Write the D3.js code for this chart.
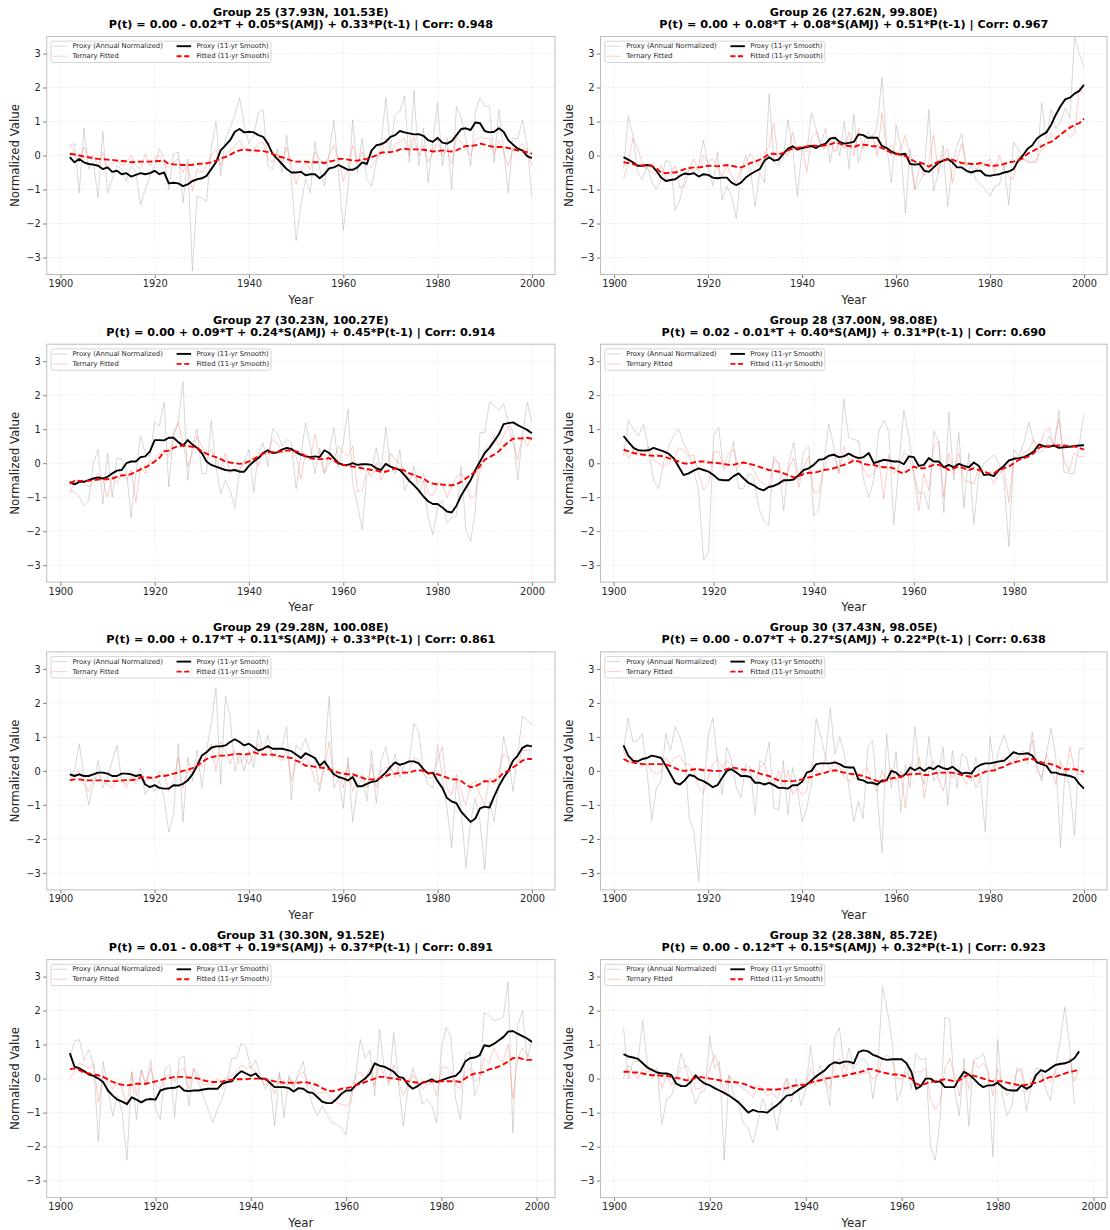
<!DOCTYPE html>
<html>
<head>
<meta charset="utf-8">
<script src="https://cdn.jsdelivr.net/npm/d3@7"></script>
<style>
  body { margin: 0; background: #fff; }
  svg { display: block; font-family: "DejaVu Sans", sans-serif; }
</style>
</head>
<body>
<div id="chart"></div>
<script>
// every series starts in 1902, one value per year
const firstYear = 1902;
const groupTitles = [
  "Group 25 (37.93N, 101.53E)", "Group 26 (27.62N, 99.80E)",
  "Group 27 (30.23N, 100.27E)", "Group 28 (37.00N, 98.08E)",
  "Group 29 (29.28N, 100.08E)", "Group 30 (37.43N, 98.05E)",
  "Group 31 (30.30N, 91.52E)", "Group 32 (28.38N, 85.72E)"
];
const equations = [
  "P(t) = 0.00 - 0.02*T + 0.05*S(AMJ) + 0.33*P(t-1) | Corr: 0.948",
  "P(t) = 0.00 + 0.08*T + 0.08*S(AMJ) + 0.51*P(t-1) | Corr: 0.967",
  "P(t) = 0.00 + 0.09*T + 0.24*S(AMJ) + 0.45*P(t-1) | Corr: 0.914",
  "P(t) = 0.02 - 0.01*T + 0.40*S(AMJ) + 0.31*P(t-1) | Corr: 0.690",
  "P(t) = 0.00 + 0.17*T + 0.11*S(AMJ) + 0.33*P(t-1) | Corr: 0.861",
  "P(t) = 0.00 - 0.07*T + 0.27*S(AMJ) + 0.22*P(t-1) | Corr: 0.638",
  "P(t) = 0.01 - 0.08*T + 0.19*S(AMJ) + 0.37*P(t-1) | Corr: 0.891",
  "P(t) = 0.00 - 0.12*T + 0.15*S(AMJ) + 0.32*P(t-1) | Corr: 0.923"
];
// last year of each record (sets the x range)
const lastYears = [2000, 2000, 2000, 1994, 2000, 2000, 1999, 1998];
const yearTicks = [1900, 1920, 1940, 1960, 1980, 2000];
const valueTicks = [-3, -2, -1, 0, 1, 2, 3];
const legendLabels = ["Proxy (Annual Normalized)", "Ternary Fitted", "Proxy (11-yr Smooth)", "Fitted (11-yr Smooth)"];

// ---- Group 25
const g25Proxy = [0.3, 0.35, -1.1, 0.8, -0.4, -0.2, -1.25, 0.72,
  -1.1, -0.7, -0.3, -0.4, -0.75, -0.3, -0.5, -1.45, -1.0, -0.6,
  -0.3, 0.2, -0.1, -1.0, 0.05, 0.1, -1.4, -0.1, -3.4, -1.2,
  -1.25, -1.35, 0.2, 1.0, -0.6, 0.5, 0.8, 1.2, 1.7, 0.9,
  0.35, 0.6, 1.25, 1.35, -0.3, -0.4, 0.2, -0.5, 0.6, -0.7,
  -2.5, -1.5, -0.7, -1.1, 0.4, -0.4, -0.9, 0.1, 1.05, -0.5,
  -2.2, -1.0, 1.05, -0.5, 0.5, -0.7, -0.9, -0.2, 0.3, 1.7,
  0.2, 1.2, 1.3, 1.75, -0.2, 1.9, -0.3, 0.8, -0.8, 0.4,
  1.55, -0.3, 0.5, -1.0, 1.45, 1.1, 0.5, -0.3, 1.3, 1.7,
  1.45, 1.45, -0.2, 1.35, 0.2, -1.1, 0.5, 0.5, 1.05, 0.3,
  -1.2];
const g25Fitted = [0.3, 0.1, -0.2, 0.25, -0.1, 0.0, -0.3, 0.1,
  -0.4, -0.2, -0.1, -0.3, -0.2, 0.0, -0.3, -0.4, 0.05, -0.3,
  -0.1, 0.0, -0.25, -0.35, -0.2, -0.1, -0.5, -0.2, -1.05, -0.4,
  -0.5, -0.3, 0.0, 0.2, -0.3, 0.0, 0.15, 0.3, 0.45, 0.2,
  0.1, 0.15, 0.35, 0.4, -0.1, -0.2, 0.05, -0.2, 0.25, -0.3,
  -0.85, -0.4, -0.2, -0.4, 0.1, -0.1, -0.3, 0.0, 0.3, -0.1,
  -0.75, -0.4, 0.3, -0.2, 0.1, -0.3, -0.35, -0.1, 0.05, 0.5,
  0.05, 0.35, 0.4, 0.5, 0.0, 0.55, 0.0, 0.3, -0.2, 0.1,
  0.5, 0.0, 0.2, -0.25, 0.55, 0.4, 0.2, 0.0, 0.45, 0.55,
  0.5, 0.5, 0.05, 0.45, 0.1, -0.3, 0.2, 0.2, 0.35, 0.1,
  -0.3];
const g25ProxySmooth = [-0.05, -0.2, -0.1, -0.2, -0.25, -0.27, -0.3, -0.4,
  -0.35, -0.48, -0.45, -0.55, -0.52, -0.62, -0.57, -0.52, -0.55, -0.52,
  -0.45, -0.55, -0.5, -0.82, -0.8, -0.82, -0.9, -0.85, -0.75, -0.7,
  -0.67, -0.6, -0.4, -0.2, 0.15, 0.3, 0.45, 0.7, 0.78, 0.68,
  0.7, 0.68, 0.6, 0.55, 0.35, 0.05, -0.1, -0.25, -0.4, -0.5,
  -0.5, -0.48, -0.58, -0.55, -0.55, -0.67, -0.55, -0.38, -0.35, -0.28,
  -0.35, -0.42, -0.42, -0.35, -0.2, -0.25, 0.15, 0.3, 0.33, 0.4,
  0.55, 0.6, 0.72, 0.68, 0.65, 0.62, 0.63, 0.58, 0.45, 0.4,
  0.52, 0.38, 0.35, 0.42, 0.6, 0.78, 0.8, 0.75, 0.97, 0.95,
  0.72, 0.68, 0.7, 0.8, 0.7, 0.45, 0.32, 0.2, 0.15, -0.02,
  -0.08];
const g25FittedSmooth = [0.05, 0.03, 0.0, -0.03, -0.05, -0.08, -0.1, -0.11,
  -0.12, -0.13, -0.15, -0.16, -0.17, -0.2, -0.19, -0.18, -0.18, -0.18,
  -0.17, -0.16, -0.15, -0.25, -0.26, -0.27, -0.28, -0.28, -0.27, -0.25,
  -0.24, -0.23, -0.2, -0.15, -0.08, -0.05, 0.02, 0.1, 0.15, 0.18,
  0.16, 0.15, 0.14, 0.13, 0.1, 0.05, -0.02, -0.05, -0.1, -0.15,
  -0.18, -0.18, -0.18, -0.2, -0.2, -0.2, -0.22, -0.18, -0.15, -0.1,
  -0.1, -0.12, -0.15, -0.15, -0.12, -0.1, -0.05, 0.0, 0.08, 0.1,
  0.1, 0.12, 0.18, 0.2, 0.18, 0.18, 0.18, 0.17, 0.15, 0.12,
  0.13, 0.15, 0.13, 0.12, 0.15, 0.22, 0.28, 0.28, 0.3, 0.35,
  0.32, 0.28, 0.25, 0.25, 0.25, 0.22, 0.18, 0.15, 0.12, 0.1,
  0.05];

// ---- Group 26
const g26Proxy = [-0.4, 1.15, 0.6, -0.5, -0.7, -0.3, -0.75, -1.0,
  -0.7, -0.15, -0.2, -1.6, -1.3, -0.7, -0.3, -0.5, -0.3, 0.45,
  -0.3, -0.9, 0.1, -1.3, -0.9, -1.2, -1.85, -0.5, 0.0, -0.4,
  -1.5, -0.5, -0.8, 1.8, -0.2, -0.3, -0.1, 1.05, 0.2, -1.2,
  0.2, 0.1, 1.25, 0.8, 0.3, 0.8, -0.2, 0.6, 0.0, 1.0,
  -0.4, 1.2, -0.2, 0.3, 0.7, 0.5, 0.9, 2.3, 0.3, -0.8,
  0.9, 0.3, -1.7, 0.2, -1.0, -0.8, -0.5, 1.35, -1.05, -0.5,
  0.3, -1.5, -0.3, 0.3, 0.65, -0.5, -0.3, -0.7, -0.85, -1.0,
  -1.2, -0.9, -0.85, -0.3, -1.45, 0.4, 0.2, -0.1, -0.2, -0.2,
  -0.2, 1.55, 0.5, 1.35, 0.8, 1.0, 1.4, 1.1, 3.5, 3.0,
  2.6];
const g26Fitted = [-0.7, -0.2, 0.5, 0.2, -0.2, -0.4, -0.5, -0.55,
  -0.3, -0.7, -0.5, -0.3, -0.95, -0.9, -0.4, -0.1, -0.5, 0.0,
  -0.2, -0.1, -0.35, -0.6, -0.3, -0.6, -0.8, -0.4, -0.2, 0.05,
  -0.2, -0.3, 0.0, 0.3, 0.95, -0.2, 0.1, 0.0, 0.7, 0.1,
  0.3, -0.5, 0.5, 0.7, 0.3, 0.2, 0.5, 0.1, 0.4, 0.2,
  0.7, 0.0, 0.8, 0.2, 0.4, 0.6, 0.0, 1.25, 0.1, 0.3,
  0.0, 0.2, 0.6, -0.1, -1.0, -0.3, -0.6, -0.2, 0.6, -0.5,
  0.0, 0.2, -0.8, -0.1, 0.35, -0.3, -0.2, -0.4, -0.3, -0.2,
  -0.1, -0.5, 0.0, -0.4, -0.6, -0.7, 0.0, -0.1, -0.15, -0.2,
  -0.1, 0.2, 0.3, 0.65, 0.5, 0.6, 0.7, 0.55, 0.65, 2.0,
  1.8];
const g26ProxySmooth = [-0.05, -0.12, -0.2, -0.3, -0.3, -0.28, -0.3, -0.45,
  -0.65, -0.75, -0.72, -0.7, -0.6, -0.53, -0.55, -0.52, -0.62, -0.55,
  -0.57, -0.65, -0.67, -0.65, -0.65, -0.8, -0.87, -0.8, -0.65, -0.55,
  -0.47, -0.4, -0.15, -0.05, -0.15, -0.12, 0.05, 0.2, 0.27, 0.18,
  0.22, 0.25, 0.28, 0.22, 0.3, 0.35, 0.5, 0.52, 0.4, 0.35,
  0.37, 0.4, 0.62, 0.6, 0.52, 0.52, 0.52, 0.28, 0.22, 0.12,
  0.05, 0.03, 0.05, -0.25, -0.27, -0.25, -0.45, -0.48, -0.35, -0.22,
  -0.15, -0.1, -0.2, -0.35, -0.35, -0.45, -0.5, -0.45, -0.45, -0.58,
  -0.6, -0.57, -0.55, -0.5, -0.47, -0.4, -0.15, 0.0, 0.2, 0.3,
  0.5, 0.6, 0.68, 0.9, 1.2, 1.45, 1.65, 1.7, 1.82, 1.9,
  2.08];
const g26FittedSmooth = [-0.2, -0.22, -0.25, -0.3, -0.3, -0.28, -0.3, -0.38,
  -0.5, -0.52, -0.5, -0.5, -0.45, -0.4, -0.37, -0.35, -0.35, -0.33,
  -0.3, -0.3, -0.32, -0.3, -0.28, -0.3, -0.33, -0.35, -0.3, -0.22,
  -0.18, -0.12, -0.05, 0.05, 0.05, 0.03, 0.08, 0.15, 0.2, 0.22,
  0.25, 0.27, 0.3, 0.28, 0.28, 0.3, 0.33, 0.38, 0.35, 0.3,
  0.28, 0.25, 0.3, 0.32, 0.3, 0.27, 0.27, 0.22, 0.15, 0.08,
  0.05, 0.02, -0.02, -0.1, -0.18, -0.2, -0.25, -0.33, -0.25, -0.18,
  -0.15, -0.12, -0.12, -0.18, -0.22, -0.23, -0.25, -0.25, -0.22, -0.27,
  -0.3, -0.3, -0.28, -0.25, -0.2, -0.18, -0.15, -0.08, 0.05, 0.12,
  0.2, 0.28, 0.35, 0.4, 0.5, 0.62, 0.72, 0.82, 0.9, 0.95,
  1.08];

// ---- Group 27
const g27Proxy = [-0.8, -0.85, -1.0, -1.25, -1.1, 0.0, 0.4, -1.2,
  0.3, -1.0, 0.15, 0.1, -0.2, -1.6, -0.3, 0.8, 0.3, 0.2,
  1.2, 1.1, 1.8, -0.7, 0.9, 1.2, 2.4, -0.5, 0.5, 1.0,
  -0.3, -0.3, 1.25, -0.1, -0.9, -0.5, -0.8, -1.3, -0.2, 0.0,
  0.4, -0.85, 0.3, 0.6, -0.1, 1.0, 0.9, 0.5, 0.7, 0.6,
  -0.75, 0.2, 1.2, 0.5, -0.3, 0.45, -0.3, 0.3, 1.05, -0.1,
  0.6, 1.6, -0.6, -1.2, -1.95, -0.4, -0.2, 0.45, -0.3, 1.05,
  -0.1, -0.3, 0.4, -0.8, -0.5, -0.1, -0.9, -0.5, -1.6, -2.1,
  -1.3, -1.1, -1.75, -1.6, -1.55, -0.1, -1.95, -2.3, -1.4, 0.9,
  0.9, 1.8, 1.7, 1.55, 1.75, 1.2, 0.9, -0.5, 0.8, 1.8,
  1.2];
const g27Fitted = [-0.9, -0.5, -0.5, -0.55, -0.7, -0.6, -0.3, -0.5,
  -1.0, -0.4, -0.6, -0.3, -0.5, -0.2, -1.15, -0.1, -0.3, 0.1,
  0.0, 0.3, 0.3, 0.2, 0.8, 1.2, 0.6, -0.1, 0.3, 0.8,
  0.5, 0.2, 0.4, 0.1, -0.2, 0.3, -0.3, -0.1, -0.2, 0.1,
  0.0, 0.2, -0.1, 0.3, 0.3, 0.7, 0.6, 0.3, 0.4, 0.4,
  0.2, -0.45, 0.3, 0.1, 0.85, 0.2, -0.3, 0.0, 0.1, 0.5,
  0.3, 0.2, 0.5, -0.85, -0.8, -0.2, -0.4, 0.0, -0.5, -0.2,
  0.3, 0.1, 0.0, -0.2, -0.5, -0.3, -0.6, -0.3, -0.9, -0.95,
  -0.6, -0.6, -1.0, -0.7, -0.4, -0.3, -0.5, -1.05, -0.95, -0.2,
  0.4, 0.5, 0.8, 0.5, 0.8, 1.1, 0.6, 0.1, 0.8, 0.5,
  0.75];
const g27ProxySmooth = [-0.55, -0.62, -0.55, -0.55, -0.5, -0.45, -0.42, -0.45,
  -0.4, -0.3, -0.22, -0.2, 0.0, 0.05, 0.05, 0.18, 0.2, 0.35,
  0.68, 0.68, 0.67, 0.75, 0.75, 0.62, 0.52, 0.68, 0.55, 0.45,
  0.3, 0.05, -0.05, -0.1, -0.15, -0.2, -0.22, -0.2, -0.25, -0.25,
  -0.08, 0.05, 0.15, 0.3, 0.38, 0.3, 0.32, 0.4, 0.45, 0.42,
  0.32, 0.25, 0.2, 0.18, 0.2, 0.18, 0.38, 0.3, 0.15, 0.0,
  -0.05, -0.05, 0.0, -0.05, -0.03, -0.03, -0.05, -0.15, -0.2, -0.02,
  -0.1, -0.15, -0.2, -0.35, -0.52, -0.65, -0.8, -0.98, -1.12, -1.2,
  -1.2, -1.3, -1.42, -1.45, -1.25, -0.95, -0.72, -0.5, -0.2, 0.05,
  0.3, 0.45, 0.65, 0.85, 1.15, 1.18, 1.2, 1.12, 1.05, 0.98,
  0.88];
const g27FittedSmooth = [-0.6, -0.52, -0.52, -0.52, -0.52, -0.5, -0.48, -0.47,
  -0.47, -0.45, -0.4, -0.36, -0.35, -0.32, -0.25, -0.18, -0.12, -0.05,
  0.05, 0.15, 0.35, 0.37, 0.45, 0.5, 0.52, 0.5, 0.48, 0.45,
  0.35, 0.28, 0.22, 0.18, 0.12, 0.05, 0.02, 0.0, -0.02, 0.0,
  0.05, 0.12, 0.2, 0.28, 0.32, 0.32, 0.33, 0.35, 0.37, 0.38,
  0.35, 0.3, 0.2, 0.15, 0.12, 0.12, 0.12, 0.15, 0.08, -0.02,
  -0.05, -0.08, -0.1, -0.12, -0.15, -0.17, -0.2, -0.22, -0.25, -0.25,
  -0.2, -0.15, -0.18, -0.22, -0.3, -0.35, -0.4, -0.45, -0.55, -0.6,
  -0.62, -0.63, -0.65, -0.65, -0.62, -0.55, -0.45, -0.35, -0.25, -0.08,
  0.1, 0.18, 0.25, 0.35, 0.5, 0.62, 0.72, 0.73, 0.73, 0.75,
  0.72];

// ---- Group 28 (record ends 1994)
const g28Proxy = [0.2, 1.25, 1.0, 0.8, 1.15, 0.4, -0.5, -0.75,
  0.0, 0.5, 0.8, 1.0, 0.6, 0.3, -0.2, -0.8, -2.85, -2.6,
  0.8, 1.05, -0.2, 0.0, 0.65, -0.75, -0.75, -0.3, -0.4, -1.3,
  -1.7, -1.85, 0.2, 0.0, -1.4, 0.0, 0.6, -0.5, 0.35, 0.5,
  -1.55, -1.35, 0.0, 1.15, 0.5, -0.3, 1.9, 0.75, 0.7, 0.65,
  -0.5, -1.0, -0.5, 0.95, 1.25, 0.95, -1.8, -0.1, 1.55, 0.8,
  -0.3, -0.9, -0.85, -1.35, 0.95, 0.6, -1.45, 1.5, -0.5, 0.9,
  -1.3, 0.3, -1.8, -0.3, 0.0, 0.1, 0.25, 0.0, -0.5, -2.45,
  0.4, 0.2, 0.6, 1.2, 0.6, 0.3, 0.4, 0.8, 0.5, 1.55,
  -0.25, -0.3, -0.3, 0.5, 1.45];
const g28Fitted = [0.5, 0.15, 0.4, 0.3, 0.2, 0.5, 0.1, 0.0,
  -0.1, 0.0, 0.1, 0.45, 0.4, 0.2, 0.25, -0.3, -0.8, -0.6,
  0.3, 0.35, -0.1, 0.3, 0.4, -0.1, 0.0, 0.0, -0.2, -0.5,
  -0.6, -0.7, 0.1, 0.0, -0.6, -0.15, 0.15, -0.7, -0.1, 0.2,
  -0.85, -0.85, -0.2, 0.2, 0.3, -0.3, 0.5, 0.1, 0.1, 0.2,
  -0.2, -0.4, -0.3, 0.1, -1.05, 0.25, -0.3, -0.1, 0.3, 0.2,
  -0.3, -1.4, -0.3, -0.8, 0.5, 0.65, -1.0, 0.3, -0.3, 0.3,
  -0.5, -0.55, -0.6, -0.1, -0.2, -0.3, -0.6, -0.3, -0.2, -1.15,
  0.2, 0.1, 0.3, 0.4, 0.7, 0.4, 0.9, 1.05, 0.5, 1.3,
  0.1, -0.25, 0.3, 0.2, 0.2];
const g28ProxySmooth = [0.8, 0.62, 0.45, 0.38, 0.37, 0.38, 0.45, 0.4,
  0.35, 0.28, 0.15, -0.1, -0.35, -0.3, -0.22, -0.15, -0.2, -0.25,
  -0.35, -0.48, -0.5, -0.5, -0.38, -0.3, -0.45, -0.58, -0.65, -0.75,
  -0.8, -0.7, -0.67, -0.6, -0.5, -0.5, -0.48, -0.35, -0.2, -0.15,
  -0.05, 0.1, 0.12, 0.22, 0.25, 0.18, 0.2, 0.28, 0.2, 0.15,
  0.18, 0.3, 0.0, 0.05, 0.1, 0.08, 0.05, 0.05, -0.03, 0.2,
  0.18, -0.08, -0.05, 0.15, 0.05, 0.05, -0.12, -0.05, -0.12, -0.02,
  -0.08, -0.12, 0.02, -0.08, -0.35, -0.33, -0.38, -0.2, -0.08, 0.08,
  0.13, 0.15, 0.18, 0.25, 0.35, 0.55, 0.5, 0.48, 0.52, 0.45,
  0.47, 0.48, 0.5, 0.52, 0.53];
const g28FittedSmooth = [0.4, 0.35, 0.3, 0.27, 0.25, 0.23, 0.22, 0.22,
  0.2, 0.15, 0.1, 0.05, 0.0, -0.02, 0.02, 0.05, 0.05, 0.02,
  0.02, 0.0, -0.02, -0.05, -0.05, 0.0, 0.02, -0.02, -0.05, -0.1,
  -0.15, -0.2, -0.22, -0.25, -0.3, -0.35, -0.42, -0.38, -0.32, -0.28,
  -0.28, -0.25, -0.2, -0.18, -0.15, -0.1, -0.05, 0.0, 0.08, 0.05,
  -0.02, -0.05, -0.05, -0.1, -0.12, -0.12, -0.15, -0.25, -0.3, -0.2,
  -0.1, -0.15, -0.15, -0.1, -0.05, -0.05, -0.1, -0.2, -0.15, -0.1,
  -0.15, -0.2, -0.15, -0.2, -0.25, -0.3, -0.3, -0.2, -0.15, -0.1,
  0.0, 0.1, 0.15, 0.2, 0.3, 0.45, 0.5, 0.5, 0.52, 0.52,
  0.52, 0.5, 0.5, 0.45, 0.4];

// ---- Group 29
const g29Proxy = [-0.1, 0.0, 0.8, -0.1, -1.0, -0.4, 0.3, -0.5,
  -0.2, 0.3, 0.75, -0.3, -0.4, -0.1, -0.3, 0.1, -0.7, -0.4,
  -0.6, -0.3, -0.8, -1.8, -1.3, 0.8, -1.5, 0.4, -0.3, 0.6,
  -0.5, 0.6, 1.4, 2.45, -0.4, 2.2, 1.6, 0.0, 0.5, 0.0,
  0.6, 0.1, 1.2, 0.6, 1.05, 0.4, 0.6, 0.7, 1.3, -0.85,
  0.75, 0.6, 0.95, 0.5, 0.3, -0.6, 0.2, 2.2, -0.5, -0.2,
  -1.1, 0.4, -1.5, -0.5, -0.2, -0.9, 0.6, -0.95, 0.3, 0.7,
  0.0, 0.5, -0.2, 0.2, 0.3, 1.4, 1.15, 0.0, -0.4, -0.5,
  0.75, -0.2, -1.1, -2.25, -0.3, -1.1, -2.85, -1.5, -0.8, -1.5,
  -2.9, -0.9, -1.5, -0.3, 1.0, 0.4, -0.6, 0.5, 1.6, 1.5,
  1.35];
const g29Fitted = [-0.2, -0.1, 0.0, -0.4, -0.6, -0.3, -0.1, -0.3,
  -0.4, -0.5, -0.2, -0.3, -0.5, -0.2, -0.4, -0.1, -0.3, -0.2,
  -0.3, 0.0, -0.1, -0.6, -0.3, 0.4, -0.5, 0.0, 0.0, 0.3,
  0.1, 0.5, 0.8, 0.0, 0.85, 0.6, 0.2, 0.6, 0.2, 0.4,
  0.2, 0.5, 0.8, 0.4, 0.7, 0.5, 0.4, 0.3, 0.6, -0.3,
  0.3, 0.2, 0.4, 0.2, -0.3, -0.4, 0.1, 0.85, -0.2, 0.0,
  -0.5, 0.2, -0.6, -0.3, -0.1, -0.5, 0.2, -0.5, 0.0, 0.1,
  0.1, -0.2, 0.2, -0.1, 0.0, 0.4, 0.3, -0.1, -0.2, -0.2,
  0.3, 0.7, -0.5, -0.7, -0.1, -0.6, -1.0, -0.4, -0.3, -0.7,
  -1.0, -0.2, -0.4, 0.0, 0.5, 0.4, 0.1, 0.2, 0.6, 0.6,
  0.6];
const g29ProxySmooth = [-0.1, -0.15, -0.1, -0.15, -0.15, -0.1, -0.05, -0.05,
  -0.08, -0.15, -0.15, -0.08, -0.08, -0.1, -0.15, -0.12, -0.4, -0.48,
  -0.42, -0.5, -0.52, -0.52, -0.42, -0.43, -0.38, -0.28, -0.1, 0.15,
  0.45, 0.55, 0.68, 0.72, 0.72, 0.75, 0.85, 0.93, 0.85, 0.75,
  0.8, 0.7, 0.6, 0.65, 0.73, 0.65, 0.65, 0.65, 0.62, 0.58,
  0.48, 0.38, 0.52, 0.45, 0.38, 0.15, 0.28, 0.08, -0.1, -0.18,
  -0.22, -0.28, -0.18, -0.45, -0.45, -0.38, -0.32, -0.3, -0.18, -0.05,
  0.12, 0.25, 0.18, 0.22, 0.28, 0.28, 0.22, 0.05, -0.08, -0.05,
  -0.3, -0.5, -0.8, -0.9, -0.95, -1.2, -1.35, -1.5, -1.4, -1.1,
  -1.05, -1.08, -0.75, -0.45, -0.2, 0.0, 0.3, 0.45, 0.68, 0.75,
  0.72];
const g29FittedSmooth = [-0.28, -0.25, -0.25, -0.27, -0.28, -0.28, -0.28, -0.28,
  -0.3, -0.3, -0.3, -0.28, -0.27, -0.27, -0.25, -0.2, -0.18, -0.2,
  -0.2, -0.15, -0.15, -0.12, -0.08, -0.05, 0.0, 0.03, 0.08, 0.15,
  0.25, 0.35, 0.4, 0.43, 0.45, 0.45, 0.47, 0.5, 0.5, 0.48,
  0.5, 0.55, 0.5, 0.48, 0.48, 0.48, 0.45, 0.42, 0.4, 0.38,
  0.3, 0.25, 0.15, 0.15, 0.12, 0.1, 0.08, 0.05, 0.0, -0.05,
  -0.08, -0.1, -0.1, -0.15, -0.2, -0.25, -0.25, -0.25, -0.2, -0.15,
  -0.1, -0.08, -0.06, -0.05, -0.05, 0.0, 0.02, 0.0, -0.05, -0.08,
  -0.1, -0.15, -0.2, -0.25, -0.25, -0.3, -0.4, -0.48, -0.45, -0.38,
  -0.3, -0.32, -0.3, -0.2, -0.05, 0.0, 0.1, 0.2, 0.3, 0.35,
  0.35];

// ---- Group 30
const g30Proxy = [0.6, 1.55, 0.85, 0.9, 1.1, 0.0, -1.45, -0.5,
  -0.3, 1.1, 0.6, 1.3, 1.0, 0.5, -1.4, -1.8, -3.25, -0.6,
  1.0, 1.55, 0.3, -0.7, 0.7, 0.3, -0.5, -0.8, 0.2, 0.1,
  -1.3, 0.3, 0.2, 0.85, -1.1, -1.15, 0.3, -1.3, 0.1, -0.5,
  -1.5, -1.1, -0.4, 1.55, 1.0, 0.4, 1.85, 0.5, 1.0, 0.5,
  -0.5, -1.5, -0.9, -1.4, 0.7, 0.9, -0.7, -2.4, 1.1, -0.5,
  0.55, -1.2, 0.2, -0.5, 1.3, 0.0, -0.4, 1.0, -0.3, -0.1,
  0.7, -1.0, 0.6, -0.5, 0.5, 0.4, -0.3, 0.4, -0.3, -1.8,
  1.0, 0.0, 0.7, 1.05, 0.6, 0.3, 0.4, 0.5, 0.2, 1.15,
  0.2, -0.3, 0.5, 1.25, 0.4, -2.25, 0.1, -0.5, -1.9, 0.65,
  0.65];
const g30Fitted = [0.6, 0.2, 0.4, 0.3, 0.1, 0.2, 0.0, -0.1,
  0.0, 0.4, 0.2, 0.4, 0.45, 0.2, 0.2, 0.0, -0.5, -0.65,
  -0.2, 0.2, 0.35, 0.1, 0.3, 0.2, 0.0, -0.2, 0.1, -0.1,
  -0.3, 0.1, 0.2, -0.3, -0.4, 0.0, -0.5, 0.0, -0.7, -0.5,
  -0.7, -0.6, 0.2, 0.0, -0.1, 0.4, 0.0, 0.3, 0.1, -0.2,
  -0.3, -0.2, -0.3, 0.0, 0.1, -0.4, -0.6, 0.0, -0.3, 0.1,
  -0.3, 0.0, -1.1, 0.2, 0.0, 0.4, -0.8, 0.0, 0.3, -0.2,
  -0.6, 0.0, -0.2, 0.0, -0.1, -0.4, 0.0, -0.5, -0.2, 0.0,
  0.0, 0.2, 0.3, 0.4, 0.3, 0.2, 0.4, 0.6, 0.3, 0.9,
  0.0, -0.2, 0.5, 0.1, -0.4, 0.3, -0.2, 0.7, 0.0, -0.1,
  -0.1];
const g30ProxySmooth = [0.75, 0.45, 0.3, 0.28, 0.35, 0.38, 0.45, 0.42,
  0.38, 0.15, -0.1, -0.35, -0.4, -0.28, -0.12, -0.15, -0.25, -0.3,
  -0.38, -0.48, -0.42, -0.2, 0.0, 0.05, -0.05, -0.15, -0.15, -0.18,
  -0.35, -0.35, -0.4, -0.35, -0.42, -0.5, -0.5, -0.52, -0.42, -0.42,
  -0.32, -0.05, 0.0, 0.2, 0.22, 0.22, 0.22, 0.25, 0.2, 0.12,
  0.1, 0.1, -0.25, -0.28, -0.35, -0.35, -0.4, -0.28, -0.28, 0.0,
  -0.05, -0.18, -0.1, 0.1, 0.02, 0.1, 0.0, 0.1, 0.05, 0.15,
  0.08, 0.05, 0.12, 0.02, -0.08, -0.05, -0.08, 0.1, 0.18, 0.22,
  0.22, 0.25, 0.28, 0.3, 0.42, 0.55, 0.5, 0.5, 0.52, 0.45,
  0.25, 0.2, 0.15, -0.05, -0.05, -0.1, -0.12, -0.15, -0.2, -0.38,
  -0.52];
const g30FittedSmooth = [0.35, 0.28, 0.25, 0.22, 0.2, 0.2, 0.2, 0.2,
  0.2, 0.18, 0.15, 0.08, 0.02, 0.0, 0.02, 0.05, 0.05, 0.02,
  0.02, 0.0, 0.0, 0.0, 0.05, 0.1, 0.08, 0.05, 0.03, 0.02,
  -0.02, -0.08, -0.12, -0.15, -0.22, -0.28, -0.3, -0.3, -0.3, -0.28,
  -0.25, -0.2, -0.18, -0.12, -0.08, -0.05, 0.0, 0.02, -0.02, -0.05,
  -0.08, -0.1, -0.12, -0.15, -0.2, -0.25, -0.3, -0.32, -0.28, -0.22,
  -0.2, -0.18, -0.12, -0.1, -0.1, -0.08, -0.12, -0.12, -0.08, -0.05,
  -0.05, -0.05, -0.05, -0.08, -0.12, -0.15, -0.18, -0.15, -0.08, -0.02,
  0.0, 0.02, 0.08, 0.12, 0.2, 0.25, 0.28, 0.32, 0.35, 0.35,
  0.3, 0.25, 0.22, 0.2, 0.15, 0.08, 0.05, 0.05, 0.05, 0.02,
  -0.03];

// ---- Group 31 (record ends 1999)
const g31Proxy = [0.6, 1.1, 1.15, 0.55, 0.85, 0.4, -1.85, 0.5,
  -0.3, -1.1, -0.5, -1.0, -2.4, 0.2, -1.2, 0.25, -0.2, 0.55,
  -0.9, -1.2, 0.3, 0.4, -1.15, 0.6, 0.65, -0.8, 0.3, -0.1,
  -0.5, -0.9, -1.3, -0.9, -0.6, -0.1, 0.6, 0.6, 1.05, 0.9,
  0.3, 0.55, 0.1, -0.3, -0.1, -1.4, 0.2, -1.15, 0.1, -0.3,
  0.2, 0.5, -0.3, -0.8, -1.1, -0.8, -1.05, -1.3, -1.35, -1.45,
  -1.65, -0.5, 0.1, 1.15, 0.6, 0.85, -0.5, 1.45, 0.3, -0.2,
  1.35, -0.1, -1.4, -0.3, 0.3, -0.1, -0.75, -0.6, -0.8, -1.3,
  0.9, 1.5, 1.25, -0.6, -1.2, 0.7, 0.8, -0.5, -0.1, 1.95,
  1.85, 1.7, 1.75, 1.8, 2.85, -1.6, 1.55, 2.0, 0.6, 1.1];
const g31Fitted = [0.0, 0.2, 0.45, 0.4, 0.3, 0.45, -0.7, 0.1,
  -0.1, -0.3, -0.1, -0.3, -0.8, 0.2, -0.5, 0.25, -0.2, 0.3,
  -0.2, -0.3, 0.05, 0.1, -0.1, 0.25, 0.3, -0.3, 0.3, 0.1,
  -0.2, -0.15, -0.2, 0.0, -0.3, 0.0, 0.1, 0.2, 0.4, 0.3,
  0.35, 0.2, 0.0, -0.2, -0.1, -0.45, 0.1, -0.3, 0.0, -0.2,
  0.1, 0.2, -0.1, -0.3, -0.45, -0.4, -0.4, -0.6, -0.7, -0.75,
  -0.8, -0.7, 0.1, 0.2, 0.0, 0.3, -0.2, 0.4, 0.1, -0.1,
  0.4, -0.1, -0.5, -0.2, 0.1, -0.1, -0.3, -0.2, -0.1, -0.5,
  0.3, 0.35, 0.2, -0.2, -0.3, 0.2, 0.3, -0.1, 0.0, 0.6,
  0.45, 0.9, 0.6, 0.5, 1.0, -0.6, 0.6, 0.9, 0.7, 0.6];
const g31ProxySmooth = [0.75, 0.35, 0.3, 0.22, 0.12, 0.08, 0.0, -0.1,
  -0.35, -0.5, -0.62, -0.68, -0.75, -0.55, -0.62, -0.7, -0.62, -0.6,
  -0.62, -0.35, -0.3, -0.28, -0.27, -0.22, -0.35, -0.37, -0.35, -0.35,
  -0.32, -0.3, -0.3, -0.3, -0.15, -0.1, -0.08, 0.1, 0.22, 0.15,
  0.08, 0.15, 0.0, 0.0, -0.12, -0.25, -0.25, -0.25, -0.28, -0.38,
  -0.28, -0.3, -0.4, -0.42, -0.55, -0.68, -0.72, -0.72, -0.6, -0.45,
  -0.35, -0.35, -0.2, -0.1, 0.0, 0.15, 0.45, 0.38, 0.35, 0.28,
  0.2, 0.05, 0.02, -0.18, -0.3, -0.22, -0.12, -0.08, -0.02, -0.1,
  -0.05, 0.0, 0.05, 0.08, 0.22, 0.5, 0.6, 0.62, 0.68, 0.98,
  0.95, 1.02, 1.12, 1.22, 1.38, 1.4, 1.32, 1.25, 1.18, 1.08];
const g31FittedSmooth = [0.28, 0.3, 0.25, 0.18, 0.15, 0.12, 0.1, 0.05,
  -0.02, -0.1, -0.15, -0.18, -0.2, -0.18, -0.15, -0.15, -0.15, -0.12,
  -0.08, -0.05, 0.0, 0.02, 0.05, 0.05, 0.05, 0.03, 0.02, 0.0,
  -0.05, -0.08, -0.1, -0.1, -0.08, -0.05, -0.03, -0.02, -0.02, -0.02,
  0.0, 0.0, 0.0, -0.02, -0.05, -0.08, -0.1, -0.12, -0.12, -0.12,
  -0.12, -0.1, -0.12, -0.15, -0.2, -0.28, -0.35, -0.37, -0.35, -0.3,
  -0.28, -0.25, -0.2, -0.15, -0.1, -0.05, 0.0, 0.05, 0.05, 0.02,
  0.0, -0.02, -0.05, -0.08, -0.1, -0.12, -0.12, -0.1, -0.08, -0.08,
  -0.08, -0.08, -0.08, -0.08, -0.1, 0.0, 0.1, 0.15, 0.17, 0.2,
  0.27, 0.3, 0.35, 0.42, 0.5, 0.6, 0.62, 0.58, 0.55, 0.55];

// ---- Group 32 (proxy to 1996, smooth and fit to 1997)
const g32Proxy = [1.5, 0.0, 0.5, 0.5, 1.7, 0.4, 0.0, 0.3,
  -1.35, -0.6, -0.5, 0.0, 0.75, 0.3, -0.2, -0.75, -0.4, -0.35,
  1.25, 0.3, 0.5, -2.4, 0.1, -0.5, -0.8, -1.3, -1.45, -1.9,
  -1.3, -0.6, -1.0, -0.7, -1.5, -0.6, 0.0, -0.7, 0.0, -0.8,
  -0.3, 0.95, -0.2, 0.4, 0.0, -0.8, 1.2, 1.5, 0.3, 0.9,
  0.3, 0.5, 0.6, 0.4, -0.6, 0.3, 2.7, 2.0, 1.1, -0.65,
  -0.3, 0.5, -0.3, 0.75, 0.55, 0.6, -2.0, -2.4, -1.2, 1.8,
  1.75, -0.3, -1.1, 0.6, -1.4, 0.55, 0.6, 0.75, 0.2, -2.3,
  1.15, -0.5, -1.1, -0.8, 0.3, 0.2, -0.95, -0.2, 0.3, 0.3,
  -0.3, -0.65, 0.3, 1.1, 2.1, 1.0, -0.75];
const g32Fitted = [0.0, 0.4, 0.2, 0.0, 0.3, 0.2, 0.3, 0.2,
  -0.3, 0.1, -0.2, 0.0, 0.3, 0.4, 0.2, -0.3, -0.3, -0.1,
  0.3, 0.7, 0.3, -0.5, 0.1, -0.1, -0.2, -0.3, -0.4, -0.55,
  -0.2, -0.3, -0.5, -0.4, -0.6, -0.3, 0.0, -0.3, -0.2, -0.2,
  -0.2, 0.3, 0.0, 0.2, -0.1, -0.3, 0.4, 0.6, 0.0, 0.5,
  0.2, 0.1, 0.15, 0.2, 0.0, 0.1, 0.6, 0.7, 0.5, 0.0,
  0.0, 0.2, 0.0, 0.2, 0.2, 0.3, -0.6, -0.9, -0.7, 0.3,
  0.6, 0.1, -0.5, 0.3, -0.3, 0.5, 0.3, 0.45, 0.2, -0.5,
  0.3, -0.2, -0.5, -0.3, 0.2, 0.3, -0.4, 0.0, 0.1, 0.1,
  0.0, -0.1, 0.2, 0.5, 0.4, 0.6, -0.1, 0.3];
const g32ProxySmooth = [0.72, 0.65, 0.62, 0.58, 0.45, 0.32, 0.25, 0.18,
  0.15, 0.15, 0.1, -0.15, -0.22, -0.22, -0.1, 0.1, -0.05, -0.15,
  -0.2, -0.28, -0.35, -0.42, -0.5, -0.6, -0.7, -0.85, -1.0, -0.92,
  -0.97, -0.98, -1.0, -0.88, -0.78, -0.65, -0.5, -0.48, -0.38, -0.28,
  -0.2, -0.08, 0.05, 0.15, 0.25, 0.4, 0.48, 0.45, 0.5, 0.5,
  0.45, 0.78, 0.83, 0.8, 0.7, 0.65, 0.58, 0.55, 0.57, 0.57,
  0.57, 0.45, 0.2, -0.3, -0.22, 0.0, 0.0, -0.1, -0.08, -0.25,
  -0.25, -0.25, 0.0, 0.2, 0.12, 0.0, -0.15, -0.25, -0.2, -0.2,
  -0.12, -0.25, -0.33, -0.35, -0.35, -0.2, -0.3, -0.22, 0.1, 0.25,
  0.2, 0.3, 0.4, 0.43, 0.45, 0.5, 0.6, 0.8];
const g32FittedSmooth = [0.2, 0.2, 0.18, 0.18, 0.15, 0.12, 0.1, 0.1,
  0.08, 0.08, 0.05, 0.02, 0.0, -0.05, -0.05, 0.02, 0.05, 0.02,
  0.0, -0.02, -0.05, -0.08, -0.1, -0.1, -0.12, -0.15, -0.2, -0.27,
  -0.3, -0.32, -0.32, -0.32, -0.32, -0.3, -0.28, -0.22, -0.2, -0.18,
  -0.18, -0.12, -0.08, -0.05, 0.0, 0.02, 0.05, 0.07, 0.08, 0.12,
  0.15, 0.18, 0.22, 0.28, 0.28, 0.22, 0.18, 0.15, 0.12, 0.12,
  0.1, 0.05, 0.0, -0.15, -0.2, -0.15, -0.1, -0.08, -0.05, -0.02,
  -0.05, -0.08, -0.05, 0.05, 0.12, 0.08, 0.05, 0.0, -0.05, -0.08,
  -0.08, -0.08, -0.12, -0.15, -0.18, -0.2, -0.18, -0.15, -0.12, -0.08,
  0.0, 0.05, 0.05, 0.1, 0.15, 0.2, 0.22, 0.27];

const proxyAnnual = [g25Proxy, g26Proxy, g27Proxy, g28Proxy, g29Proxy, g30Proxy, g31Proxy, g32Proxy];
const fittedAnnual = [g25Fitted, g26Fitted, g27Fitted, g28Fitted, g29Fitted, g30Fitted, g31Fitted, g32Fitted];
const proxySmooth = [g25ProxySmooth, g26ProxySmooth, g27ProxySmooth, g28ProxySmooth, g29ProxySmooth, g30ProxySmooth, g31ProxySmooth, g32ProxySmooth];
const fittedSmooth = [g25FittedSmooth, g26FittedSmooth, g27FittedSmooth, g28FittedSmooth, g29FittedSmooth, g30FittedSmooth, g31FittedSmooth, g32FittedSmooth];

// layout
const width = 1110, height = 1230;
const colLeft = [46.7, 600.5], colRight = [555, 1107];
const rowTop = [36.5, 344.2, 651.9, 959.6];
const plotH = 238;

const svg = d3.select("#chart").append("svg")
  .attr("width", width)
  .attr("height", height);

groupTitles.forEach((title, i) => {
  const col = i % 2, row = Math.floor(i / 2);
  const w = colRight[col] - colLeft[col];
  const g = svg.append("g")
    .attr("transform", `translate(${colLeft[col]},${rowTop[row]})`);

  const last = lastYears[i];
  const pad = (last - firstYear) * 0.05;
  const x = d3.scaleLinear().domain([firstYear - pad, last + pad]).range([0, w]);
  const y = d3.scaleLinear().domain([-3.5, 3.5]).range([plotH, 0]);
  const xt = yearTicks.filter(t => t >= x.domain()[0] && t <= x.domain()[1]);

  // grid
  g.append("g").selectAll("line.gx").data(xt).enter().append("line")
    .attr("x1", d => x(d)).attr("x2", d => x(d))
    .attr("y1", 0).attr("y2", plotH)
    .attr("stroke", "#b0b0b0").attr("stroke-opacity", 0.35)
    .attr("stroke-width", 0.6).attr("stroke-dasharray", "2.2,1.6");
  g.append("g").selectAll("line.gy").data(valueTicks).enter().append("line")
    .attr("x1", 0).attr("x2", w)
    .attr("y1", d => y(d)).attr("y2", d => y(d))
    .attr("stroke", "#b0b0b0").attr("stroke-opacity", 0.35)
    .attr("stroke-width", 0.6).attr("stroke-dasharray", "2.2,1.6");

  // clip
  const clipId = "clip" + i;
  svg.append("clipPath").attr("id", clipId)
    .append("rect").attr("width", w).attr("height", plotH);
  const plot = g.append("g").attr("clip-path", `url(#${clipId})`);

  const line = d3.line()
    .x((d, j) => x(firstYear + j))
    .y(d => y(d));

  plot.append("path").datum(proxyAnnual[i])
    .attr("d", line).attr("fill", "none")
    .attr("stroke", "#a8a8a8").attr("stroke-opacity", 0.5).attr("stroke-width", 0.9);
  plot.append("path").datum(fittedAnnual[i])
    .attr("d", line).attr("fill", "none")
    .attr("stroke", "#fa8072").attr("stroke-opacity", 0.45).attr("stroke-width", 0.9);
  plot.append("path").datum(proxySmooth[i])
    .attr("d", line).attr("fill", "none")
    .attr("stroke", "#000").attr("stroke-width", 1.9).attr("stroke-linejoin", "round");
  plot.append("path").datum(fittedSmooth[i])
    .attr("d", line).attr("fill", "none")
    .attr("stroke", "#ff0000").attr("stroke-width", 1.9)
    .attr("stroke-dasharray", "5.8,2.8");

  // axes
  const xAxis = g.append("g")
    .attr("transform", `translate(0,${plotH})`)
    .call(d3.axisBottom(x).tickValues(xt).tickFormat(d3.format("d")).tickSize(3.5).tickPadding(2));
  const yAxis = g.append("g")
    .call(d3.axisLeft(y).tickValues(valueTicks).tickFormat(d3.format("d")).tickSize(3.5).tickPadding(2.5));
  [xAxis, yAxis].forEach(a => {
    a.select(".domain").remove();
    a.selectAll(".tick line").attr("stroke", "#555").attr("stroke-width", 0.8);
    a.selectAll(".tick text").attr("fill", "#262626")
      .style("font-family", "DejaVu Sans").style("font-size", "9.8px");
  });

  // frame
  g.append("rect").attr("width", w).attr("height", plotH)
    .attr("fill", "none").attr("stroke", "#bdbdbd").attr("stroke-width", 1);

  // labels
  g.append("text")
    .attr("x", w / 2).attr("y", plotH + 29)
    .attr("text-anchor", "middle")
    .attr("fill", "#262626").style("font-size", "11.8px")
    .text("Year");
  g.append("text")
    .attr("transform", "rotate(-90)")
    .attr("x", -plotH / 2).attr("y", -32)
    .attr("text-anchor", "middle").attr("dominant-baseline", "central")
    .attr("fill", "#262626").style("font-size", "11.8px")
    .text("Normalized Value");

  // title
  g.append("text")
    .attr("x", w / 2).attr("y", -20.6)
    .attr("text-anchor", "middle").attr("fill", "#000")
    .style("font-size", "11.2px").style("font-weight", "bold")
    .text(title);
  g.append("text")
    .attr("x", w / 2).attr("y", -8.6)
    .attr("text-anchor", "middle").attr("fill", "#000")
    .style("font-size", "11.2px").style("font-weight", "bold")
    .text(equations[i]);

  // legend
  const lg = g.append("g").attr("transform", "translate(4.3,4.7)");
  lg.append("rect").attr("width", 220).attr("height", 21.3).attr("rx", 2)
    .attr("fill", "#fff").attr("fill-opacity", 0.8)
    .attr("stroke", "#cccccc").attr("stroke-width", 0.8);
  const items = [
    { lx: 1.6, ly: 5, stroke: "#a8a8a8", op: 0.5, sw: 0.9, dash: null },
    { lx: 1.6, ly: 15, stroke: "#fa8072", op: 0.45, sw: 0.9, dash: null },
    { lx: 125.6, ly: 5, stroke: "#000", op: 1, sw: 1.9, dash: null },
    { lx: 125.6, ly: 15, stroke: "#ff0000", op: 1, sw: 1.9, dash: "5,2.6" }
  ];
  items.forEach((it, k) => {
    lg.append("line")
      .attr("x1", it.lx).attr("x2", it.lx + 14.5)
      .attr("y1", it.ly).attr("y2", it.ly)
      .attr("stroke", it.stroke).attr("stroke-opacity", it.op)
      .attr("stroke-width", it.sw).attr("stroke-dasharray", it.dash);
    lg.append("text")
      .attr("x", it.lx + 19.8).attr("y", it.ly)
      .attr("dominant-baseline", "central")
      .attr("fill", "#262626").style("font-size", "6.8px")
      .text(legendLabels[k]);
  });
});
</script>
</body>
</html>
